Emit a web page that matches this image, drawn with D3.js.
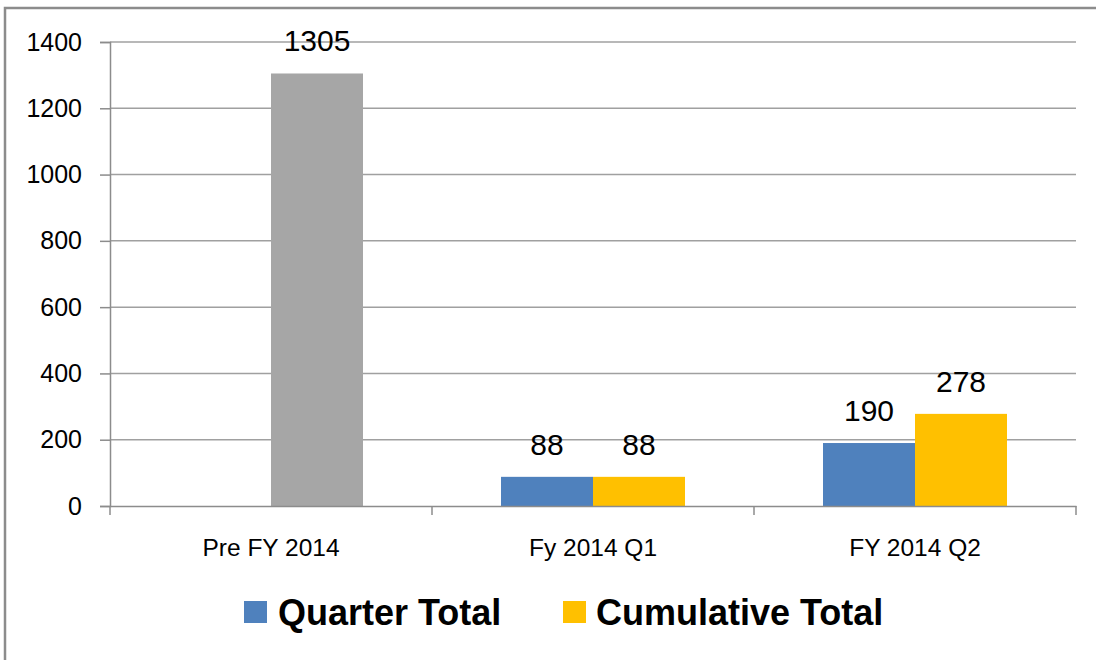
<!DOCTYPE html>
<html>
<head>
<meta charset="utf-8">
<script src="https://cdn.jsdelivr.net/npm/d3@7"></script>
<style>
  body { margin: 0; background: #fff; }
  svg { display: block; font-family: "Liberation Sans", Arial, sans-serif; }
</style>
</head>
<body>
<div id="chart"></div>
<script>
// Data
const categories = ["Pre FY 2014", "Fy 2014 Q1", "FY 2014 Q2"];
const seriesNames = ["Quarter Total", "Cumulative Total"];
const quarterTotal = [null, 88, 190];
const cumulativeTotal = [1305, 88, 278];
const yTicks = [0, 200, 400, 600, 800, 1000, 1200, 1400];

const seriesColors = { "Quarter Total": "#4f81bd", "Cumulative Total": "#ffc000" };
// first cumulative bar is drawn grey in the original
const pointColor = { "Pre FY 2014|Cumulative Total": "#a6a6a6" };

const width = 1096, height = 660;
const margin = { top: 42, right: 20, bottom: 154, left: 110 };

const svg = d3.select("#chart").append("svg")
  .attr("width", width)
  .attr("height", height);

// outer frame
svg.append("rect")
  .attr("x", 5).attr("y", 8)
  .attr("width", width + 20).attr("height", height + 20)
  .attr("fill", "none")
  .attr("stroke", "#8c8c8c")
  .attr("stroke-width", 2.5);

const x = d3.scaleBand()
  .domain(categories)
  .range([margin.left, 1076])
  .padding(0);

const xSub = d3.scaleBand()
  .domain(seriesNames)
  .range([0, x.bandwidth()])
  .paddingInner(0)
  .paddingOuter(0.75);

const y = d3.scaleLinear()
  .domain([0, 1400])
  .range([506, margin.top]);

// gridlines
svg.append("g")
  .selectAll("line")
  .data(yTicks.filter(d => d > 0))
  .join("line")
  .attr("x1", margin.left).attr("x2", 1076)
  .attr("y1", d => y(d)).attr("y2", d => y(d))
  .attr("stroke", "#a0a0a0")
  .attr("stroke-width", 1.5);

// bars
const rows = [];
categories.forEach((c, i) => {
  rows.push({ cat: c, series: "Quarter Total", value: quarterTotal[i] });
  rows.push({ cat: c, series: "Cumulative Total", value: cumulativeTotal[i] });
});
const bars = rows.filter(d => d.value != null);

svg.append("g")
  .selectAll("rect")
  .data(bars)
  .join("rect")
  .attr("x", d => x(d.cat) + xSub(d.series))
  .attr("y", d => y(d.value))
  .attr("width", xSub.bandwidth())
  .attr("height", d => y(0) - y(d.value))
  .attr("fill", d => pointColor[d.cat + "|" + d.series] || seriesColors[d.series]);

// data labels
svg.append("g")
  .selectAll("text")
  .data(bars)
  .join("text")
  .attr("x", d => x(d.cat) + xSub(d.series) + xSub.bandwidth() / 2)
  .attr("y", d => y(d.value) - 22)
  .attr("text-anchor", "middle")
  .attr("font-size", 30)
  .attr("fill", "#000")
  .text(d => d.value);

// y axis
const yAxis = svg.append("g")
  .attr("transform", `translate(${margin.left},0)`)
  .call(d3.axisLeft(y).tickValues(yTicks).tickSize(10).tickPadding(18).tickFormat(d3.format("d")));
yAxis.select(".domain").attr("stroke", "#8c8c8c").attr("stroke-width", 1.5);
yAxis.selectAll(".tick line").attr("stroke", "#8c8c8c").attr("stroke-width", 1.5);
yAxis.selectAll(".tick text")
  .attr("font-size", 25)
  .attr("font-family", "Liberation Sans, Arial, sans-serif")
  .attr("fill", "#000");

// x axis
const xAxis = svg.append("g")
  .attr("transform", `translate(0,${y(0)})`)
  .call(d3.axisBottom(x).tickSize(0).tickPadding(33));
xAxis.select(".domain").attr("stroke", "#8c8c8c").attr("stroke-width", 1.5);
xAxis.selectAll(".tick text")
  .attr("font-size", 24.5)
  .attr("font-family", "Liberation Sans, Arial, sans-serif")
  .attr("fill", "#000");
// category boundary ticks
xAxis.append("g")
  .selectAll("line")
  .data(categories.map(c => x(c)).concat([x(categories[categories.length - 1]) + x.bandwidth()]))
  .join("line")
  .attr("x1", d => d).attr("x2", d => d)
  .attr("y1", 0).attr("y2", 9)
  .attr("stroke", "#8c8c8c")
  .attr("stroke-width", 1.5);

// legend
const legendItems = [
  { name: "Quarter Total", sx: 244, tx: 278 },
  { name: "Cumulative Total", sx: 563, tx: 596 }
];
const legend = svg.append("g");
legend.selectAll("rect")
  .data(legendItems)
  .join("rect")
  .attr("x", d => d.sx).attr("y", 601)
  .attr("width", 23).attr("height", 22)
  .attr("fill", d => seriesColors[d.name]);
legend.selectAll("text")
  .data(legendItems)
  .join("text")
  .attr("x", d => d.tx).attr("y", 625)
  .attr("font-size", 36)
  .attr("font-weight", "bold")
  .attr("fill", "#000")
  .text(d => d.name);
</script>
</body>
</html>
